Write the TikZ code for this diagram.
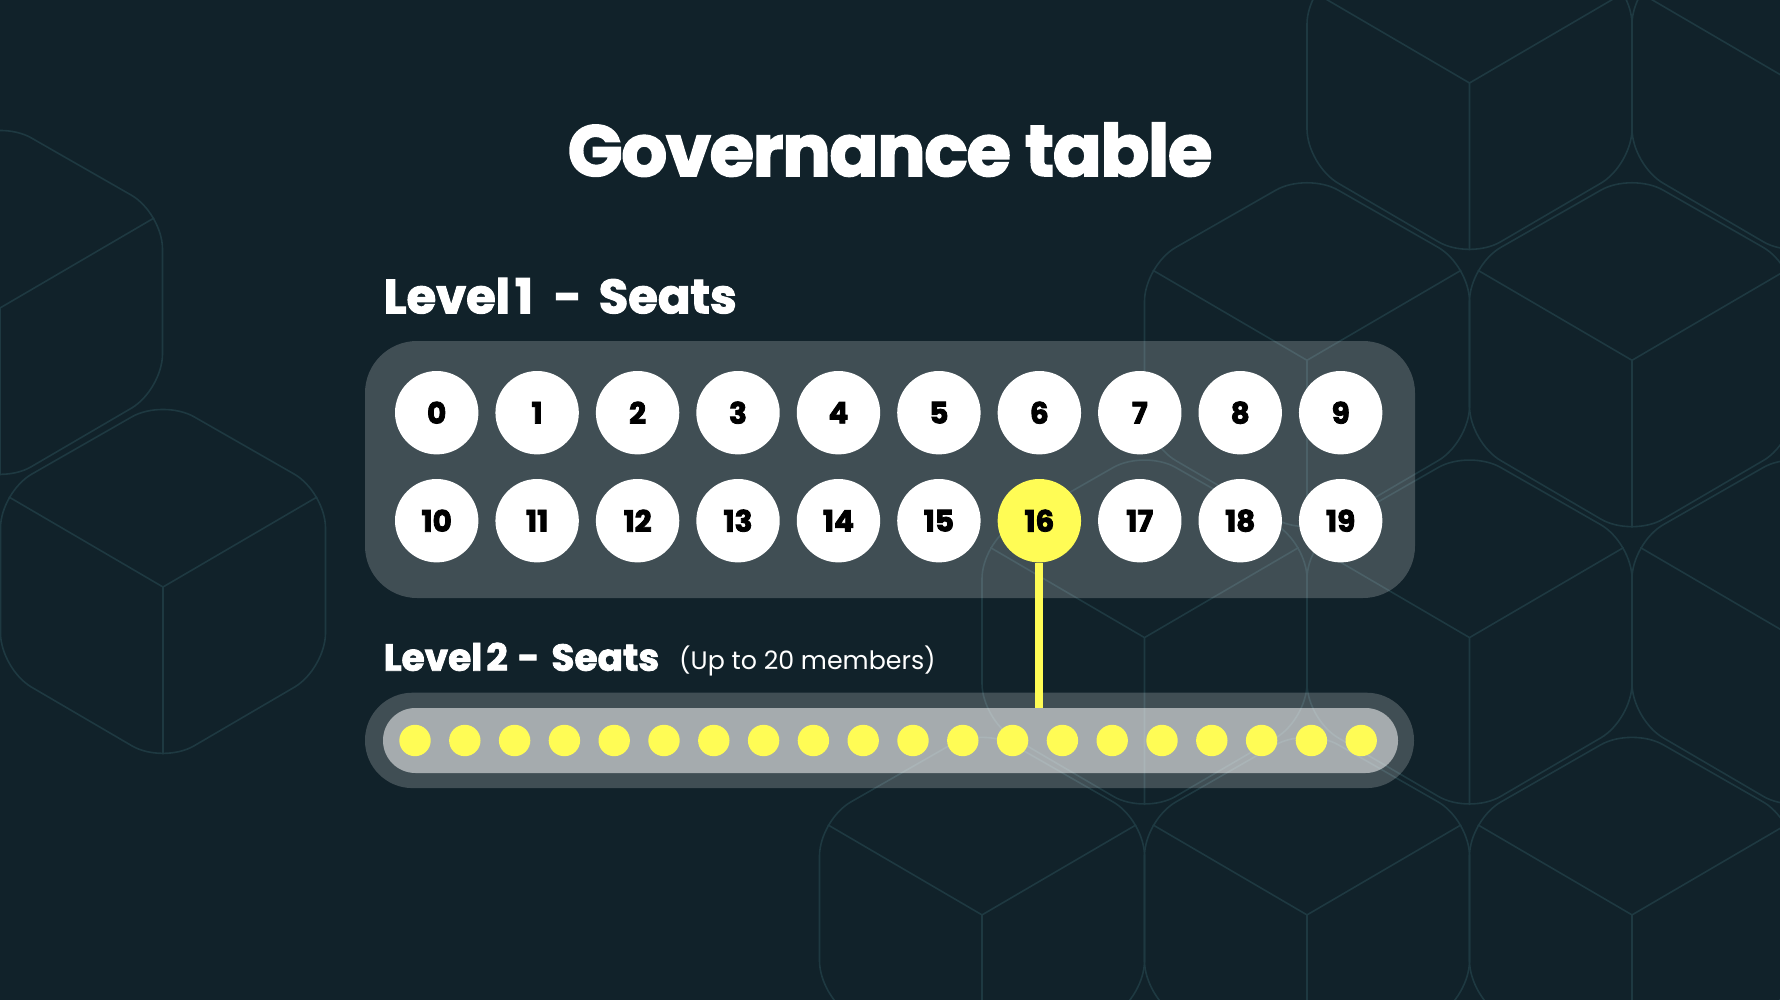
\documentclass[tikz,border=0pt]{standalone}
\usepackage{fontspec}
\setmainfont{Poppins}
\newfontfamily\titlefont{Poppins}[LetterSpace=-1.8, BoldFeatures={FakeBold=2.3}]
\newfontfamily\heavyfont{Poppins}[BoldFeatures={FakeBold=2.2}]
\newfontfamily\digitfont{Poppins}[BoldFeatures={FakeBold=2.8}]
\usetikzlibrary{calc}
\definecolor{bgc}{HTML}{11222A}
\definecolor{hexc}{HTML}{1E3941}
\definecolor{seatyellow}{HTML}{FFFC55}
\tikzset{
  hexline/.style={draw=hexc, line width=1.6pt},
  seat/.style={circle, fill=white, minimum size=83.4pt, inner sep=0pt,
    font=\digitfont\fontsize{29.5}{30}\selectfont\bfseries, text=black},
  pip/.style={circle, fill=seatyellow, minimum size=31.4pt, inner sep=0pt},
  heading/.style={anchor=base west, inner sep=0pt, text=white},
  glass/.style={fill=white, fill opacity=0.2, inner sep=0pt},
}
\newcommand\cubeat[2]{%
  \draw[hexline, rounded corners=36pt] (#1,#2-188) -- (#1+162.5,#2-95) -- (#1+162.5,#2+82)
     -- (#1,#2+177) -- (#1-162.5,#2+82) -- (#1-162.5,#2-95) -- cycle;
  \draw[hexline] (#1,#2) -- ++(-154.2,-90.1) (#1,#2) -- ++(154.2,-90.1) (#1,#2) -- ++(0,167.4);
}
\begin{document}
\begin{tikzpicture}[x=1pt,y=-1pt]
\fill[bgc] (0,0) rectangle (1780,1000);
\useasboundingbox (0,0) rectangle (1780,1000);
\begin{scope}
  \clip (0,0) rectangle (1780,1000);
  % left cluster
  \cubeat{0}{308}
  \cubeat{163}{587}
  % right cluster
  \cubeat{1469.5}{83}
  \cubeat{1794.5}{83}
  \cubeat{1307}{360.3}
  \cubeat{1632}{360.3}
  \cubeat{1144.5}{637.6}
  \cubeat{1469.5}{637.6}
  \cubeat{1794.5}{637.6}
  \cubeat{982}{914.9}
  \cubeat{1307}{914.9}
  \cubeat{1632}{914.9}
\end{scope}

% title
\node[anchor=base, inner sep=0pt, text=white, font=\titlefont\fontsize{72}{80}\selectfont\bfseries]
  (title) at (890,176) {Governance table};

% level 1
\node[heading, font=\heavyfont\fontsize{48}{50}\selectfont\bfseries] (h1) at (383.5,313.3)
  {Level\hspace{5pt}1\hspace{21pt}-\hspace{17pt}Seats};
\node[glass, rounded corners=52pt, minimum width=1050pt, minimum height=257pt]
  (panel1) at (890,469.5) {};
\foreach \i in {0,...,9}{
  \node[seat] (c\i) at (436.7+100.44*\i,412.7) {\i};
}
\foreach \i in {10,...,15,17,18,19}{
  \node[seat] (c\i) at (436.7+100.44*\i-1004.4,520.7) {\i};
}
\node[seat, fill=seatyellow] (c16) at (436.7+100.44*6,520.7) {16};

% level 2
\node[heading, font=\heavyfont\fontsize{37.5}{40}\selectfont\bfseries] (h2) at (383.5,670.7)
  {Level\hspace{4pt}2\hspace{10pt}-\hspace{12pt}Seats};
\node[heading, font=\fontsize{25.3}{28}\selectfont] (h2note) at (679,669) {(Up to 20 members)};
\node[glass, rounded corners=47.5pt, minimum width=1049pt, minimum height=95.4pt]
  (bar2out) at (889.5,740.4) {};
\coordinate (joint) at (1040.7,708);
\draw[seatyellow, line width=8pt] (c16.south) -- (c16.south |- joint);
\node[fill=white, fill opacity=0.53, rounded corners=32.4pt, minimum width=1015pt,
  minimum height=65pt, inner sep=0pt] (bar2) at (890.5,740.5) {};
\foreach \i in {1,...,20}{
  \node[pip] (d\i) at (415+49.8*\i-49.8,740.5) {};
}
\end{tikzpicture}
\end{document}
